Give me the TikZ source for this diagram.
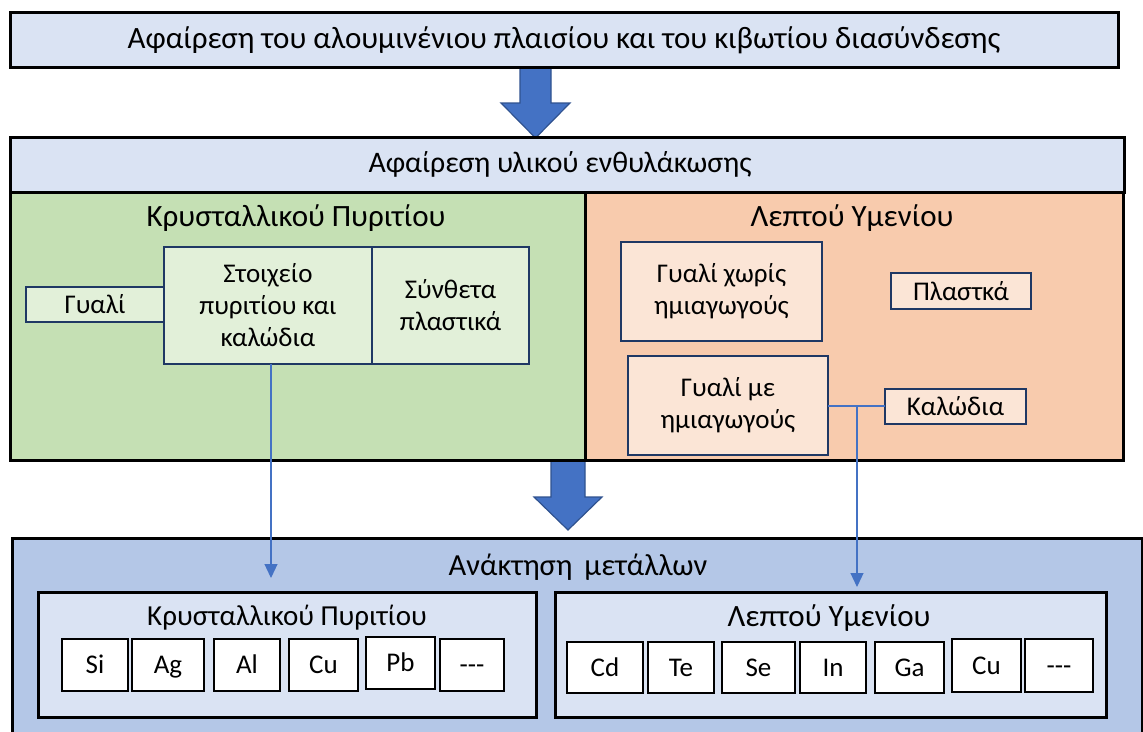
\documentclass[tikz,border=0pt]{standalone}
\usepackage{fontspec}
\setmainfont{Carlito}
\usetikzlibrary{arrows.meta}
\definecolor{lblue}{HTML}{DAE3F3}
\definecolor{mblue}{HTML}{B4C7E7}
\definecolor{green1}{HTML}{C5E0B4}
\definecolor{green2}{HTML}{E2F0D9}
\definecolor{orange1}{HTML}{F8CBAD}
\definecolor{orange2}{HTML}{FBE5D6}
\definecolor{navy}{HTML}{1F3864}
\definecolor{arrowfill}{HTML}{4472C4}
\definecolor{arrowline}{HTML}{2F528F}
\tikzset{
  bigbox/.style={draw=black, line width=3pt, inner sep=0pt, outer sep=0pt},
  subbox/.style={draw=navy, line width=2.2pt, inner sep=0pt, outer sep=0pt, align=center, font=\fontsize{27}{32}\selectfont},
  elbox/.style={draw=black, line width=2pt, fill=white, inner sep=0pt, outer sep=0pt, text height=17pt, text depth=0pt, font=\fontsize{27}{30}\selectfont},
  title/.style={inner sep=0pt, font=\fontsize{31}{36}\selectfont},
  sectitle/.style={inner sep=0pt, font=\fontsize{31}{36}\selectfont},
  bigarrow/.style={fill=arrowfill, draw=arrowline, line width=1.2pt, line join=miter},
  link/.style={draw=arrowfill, line width=1.2pt},
  linkarrow/.style={link, -{Triangle[width=13pt,length=14pt]}},
}
\begin{document}
\begin{tikzpicture}[x=1pt,y=-1pt]
\useasboundingbox (0,0) rectangle (1143,731);
\clip (0,0) rectangle (1143,731);
% big arrows (behind boxes)
\draw[bigarrow] (520,66) -- (551,66) -- (551,103) -- (570,103) -- (535.5,138) -- (501,103) -- (520,103) -- cycle;
\draw[bigarrow] (551,460) -- (585,460) -- (585,497) -- (602,497) -- (568,530) -- (534,497) -- (551,497) -- cycle;
% top boxes
\node[bigbox, fill=lblue, minimum width=1108pt, minimum height=55pt] (top) at (564,39.5) {};
\node[title] (topT) at (564,40) {Αφαίρεση του αλουμινένιου πλαισίου και του κιβωτίου διασύνδεσης};
\node[bigbox, fill=lblue, minimum width=1114pt, minimum height=55pt] (encap) at (567,164.5) {};
\node[title, font=\fontsize{29.8}{34}\selectfont] (encapT) at (560,164) {Αφαίρεση υλικού ενθυλάκωσης};
% green section
\node[bigbox, fill=green1, minimum width=575pt, minimum height=268pt] (csi) at (297.5,326) {};
\node[sectitle] (csiT) at (296,218) {Κρυσταλλικού Πυριτίου};
\node[subbox, fill=green2, minimum width=138pt, minimum height=35pt] (glass) at (95,304.5) {Γυαλί};
\node[subbox, fill=green2, minimum width=208pt, minimum height=117pt] (cell) at (268,305.5) {Στοιχείο\\πυριτίου και\\καλώδια};
\node[subbox, fill=green2, minimum width=157pt, minimum height=117pt] (plast) at (450.5,305.5) {Σύνθετα\\πλαστικά};
% orange section
\node[bigbox, fill=orange1, minimum width=538pt, minimum height=268pt] (tf) at (854,326) {};
\node[sectitle] (tfT) at (852,218) {Λεπτού Υμενίου};
\node[subbox, fill=orange2, minimum width=201pt, minimum height=99pt] (glassno) at (721.5,291.5) {Γυαλί χωρίς\\ημιαγωγούς};
\node[subbox, fill=orange2, minimum width=140pt, minimum height=36pt] (plastT) at (961,291) {Πλαστκά};
\node[subbox, fill=orange2, minimum width=200pt, minimum height=99pt] (glasssemi) at (728,405.5) {Γυαλί με\\ημιαγωγούς};
\node[subbox, fill=orange2, minimum width=141pt, minimum height=35pt] (wires) at (955.5,406.5) {Καλώδια};
% bottom section
\node[bigbox, fill=mblue, minimum width=1130pt, minimum height=210pt] (rec) at (577,643) {};
\node[title, font=\fontsize{30.6}{35}\selectfont] (recT) at (578,567) {Ανάκτηση\, μετάλλων};
\node[bigbox, fill=lblue, minimum width=498pt, minimum height=125pt] (recA) at (287,654.5) {};
\node[sectitle, font=\fontsize{29}{33}\selectfont] (recAT) at (287,618) {Κρυσταλλικού Πυριτίου};
\node[bigbox, fill=lblue, minimum width=551pt, minimum height=125pt] (recB) at (830.5,654.5) {};
\node[sectitle] (recBT) at (829,618) {Λεπτού Υμενίου};
% elements, crystalline
\node[elbox, minimum width=66pt, minimum height=52pt] (si) at (95,665) {Si};
\node[elbox, minimum width=72pt, minimum height=52pt] (ag) at (168,665) {Ag};
\node[elbox, minimum width=66pt, minimum height=52pt] (al) at (247,665) {Al};
\node[elbox, minimum width=69pt, minimum height=52pt] (cuA) at (323.5,665) {Cu};
\node[elbox, minimum width=69pt, minimum height=52pt] (pb) at (400.5,663) {Pb};
\node[elbox, minimum width=64pt, minimum height=52pt] (etcA) at (472,665) {-{}-{}-};
% elements, thin film
\node[elbox, minimum width=76pt, minimum height=51pt] (cd) at (605,667.5) {Cd};
\node[elbox, minimum width=66pt, minimum height=51pt] (te) at (681,667.5) {Te};
\node[elbox, minimum width=73pt, minimum height=51pt] (se) at (758.5,667.5) {Se};
\node[elbox, minimum width=66pt, minimum height=51pt] (in) at (833,667.5) {In};
\node[elbox, minimum width=69pt, minimum height=51pt] (ga) at (909.5,667.5) {Ga};
\node[elbox, minimum width=69pt, minimum height=53pt] (cuB) at (986.5,665.5) {Cu};
\node[elbox, minimum width=68pt, minimum height=53pt] (etcB) at (1059,665.5) {-{}-{}-};
% connectors
\coordinate (endA) at (271,578);
\coordinate (junc) at (857,406);
\coordinate (endB) at (857,587);
\draw[linkarrow] (cell.south -| endA) -- (endA);
\draw[link] (glasssemi.east |- junc) -- (wires.west |- junc);
\draw[linkarrow] (junc) -- (endB);
\end{tikzpicture}
\end{document}
